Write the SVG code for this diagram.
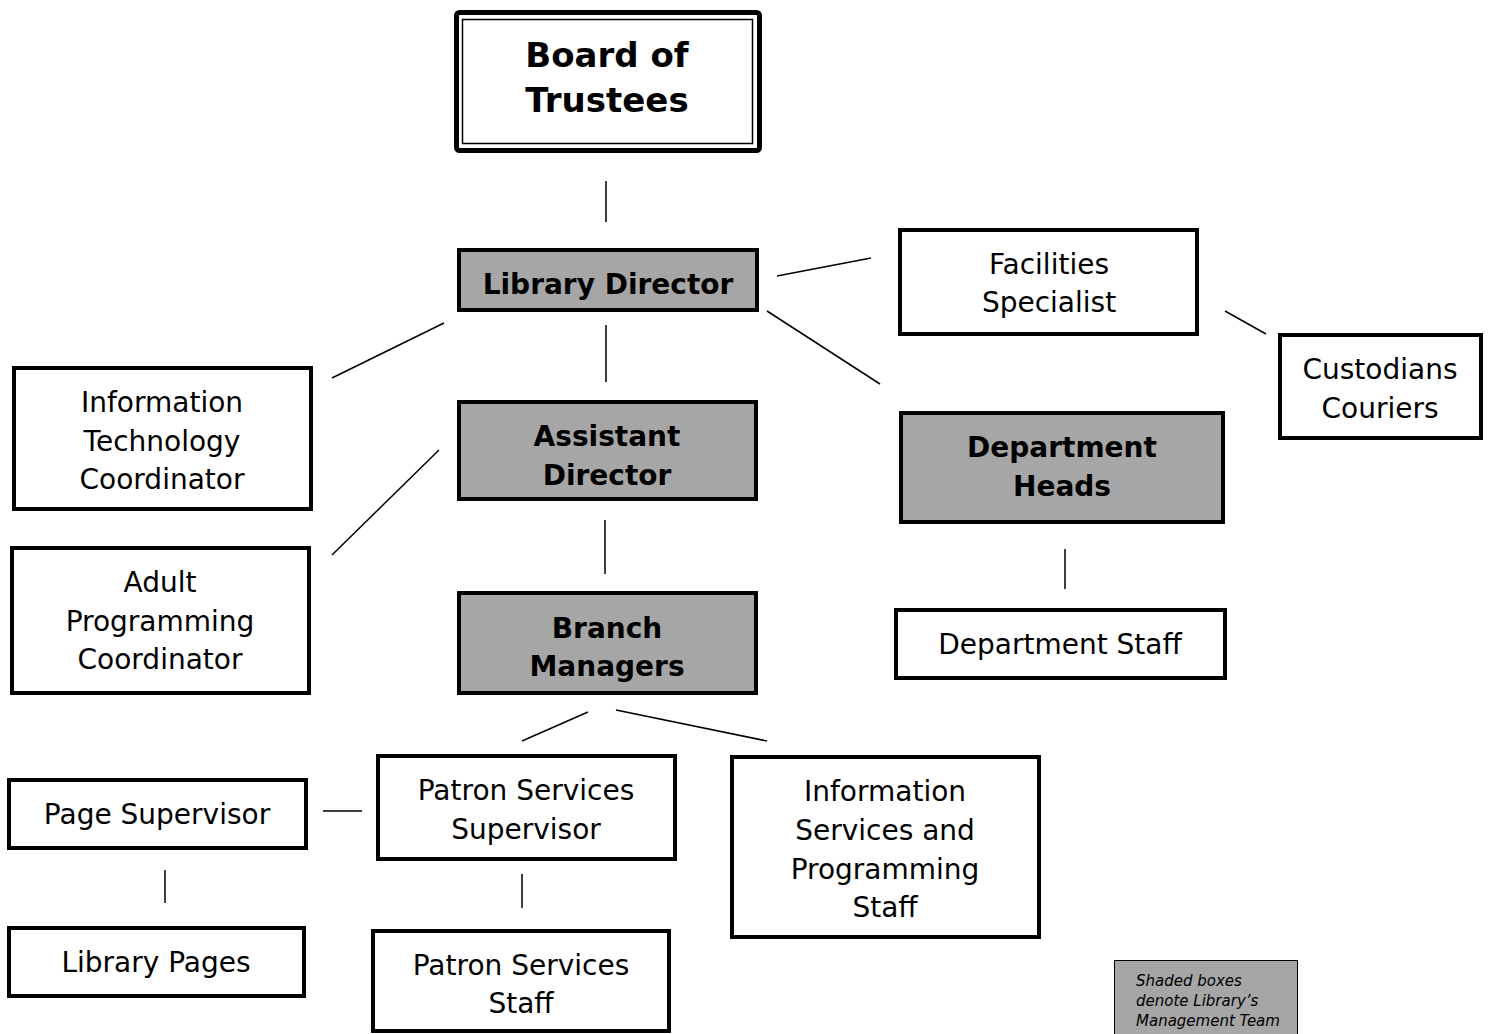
<svg xmlns="http://www.w3.org/2000/svg" width="1489" height="1034" viewBox="0 0 1489 1034">
<style>
.box{fill:#fff;stroke:#000;stroke-width:4}
.mgmt{fill:#a6a6a6;stroke:#000;stroke-width:4}
.t{font-family:"DejaVu Sans","Liberation Sans",sans-serif;font-size:28px;fill:#000;text-anchor:middle}
.b{font-family:"DejaVu Sans","Liberation Sans",sans-serif;font-size:28px;font-weight:bold;fill:#000;text-anchor:middle}
.big{font-size:34px}
.conn line{stroke:#000;stroke-width:1.5}
.leg{font-family:"DejaVu Sans","Liberation Sans",sans-serif;font-size:15px;font-style:italic;fill:#000}
</style>
<rect width="1489" height="1034" fill="#fff"/>
<g id="connectors" class="conn">
<line x1="606" y1="181" x2="606" y2="222"/>
<line x1="777" y1="276" x2="871" y2="258"/>
<line x1="606" y1="325" x2="606" y2="382"/>
<line x1="767" y1="311" x2="880" y2="384"/>
<line x1="444" y1="323" x2="332" y2="378"/>
<line x1="439" y1="450" x2="332" y2="555"/>
<line x1="605" y1="520" x2="605" y2="574"/>
<line x1="1225" y1="311" x2="1266" y2="334"/>
<line x1="1065" y1="549" x2="1065" y2="589"/>
<line x1="588" y1="712" x2="522" y2="741"/>
<line x1="616" y1="710" x2="767" y2="741"/>
<line x1="323" y1="811" x2="362" y2="811"/>
<line x1="165" y1="870" x2="165" y2="903"/>
<line x1="522" y1="874" x2="522" y2="908"/>
</g>
<g id="board">
<rect x="456.5" y="12.5" width="303" height="138" rx="3" fill="#fff" stroke="#000" stroke-width="5"/>
<rect x="462.5" y="19.5" width="290" height="124" fill="none" stroke="#000" stroke-width="1.5"/>
<text class="b big" x="607" y="67">Board of</text>
<text class="b big" x="607" y="112">Trustees</text>
</g>
<g id="director">
<rect class="mgmt" x="459" y="250" width="298" height="60"/>
<text class="b" x="608" y="294">Library Director</text>
</g>
<g id="facilities">
<rect class="box" x="900" y="230" width="297" height="104"/>
<text class="t" x="1049" y="274">Facilities</text>
<text class="t" x="1049" y="312">Specialist</text>
</g>
<g id="custodians">
<rect class="box" x="1280" y="335" width="201" height="103"/>
<text class="t" x="1380" y="379">Custodians</text>
<text class="t" x="1380" y="418">Couriers</text>
</g>
<g id="it">
<rect class="box" x="14" y="368" width="297" height="141"/>
<text class="t" x="162" y="412">Information</text>
<text class="t" x="162" y="451">Technology</text>
<text class="t" x="162" y="489">Coordinator</text>
</g>
<g id="assistant">
<rect class="mgmt" x="459" y="402" width="297" height="97"/>
<text class="b" x="607" y="446">Assistant</text>
<text class="b" x="607" y="485">Director</text>
</g>
<g id="depheads">
<rect class="mgmt" x="901" y="413" width="322" height="109"/>
<text class="b" x="1062" y="457">Department</text>
<text class="b" x="1062" y="496">Heads</text>
</g>
<g id="adult">
<rect class="box" x="12" y="548" width="297" height="145"/>
<text class="t" x="160" y="592">Adult</text>
<text class="t" x="160" y="631">Programming</text>
<text class="t" x="160" y="669">Coordinator</text>
</g>
<g id="branch">
<rect class="mgmt" x="459" y="593" width="297" height="100"/>
<text class="b" x="607" y="638">Branch</text>
<text class="b" x="607" y="676">Managers</text>
</g>
<g id="depstaff">
<rect class="box" x="896" y="610" width="329" height="68"/>
<text class="t" x="1060" y="654">Department Staff</text>
</g>
<g id="pagesup">
<rect class="box" x="9" y="780" width="297" height="68"/>
<text class="t" x="157" y="824">Page Supervisor</text>
</g>
<g id="patronsup">
<rect class="box" x="378" y="756" width="297" height="103"/>
<text class="t" x="526" y="800">Patron Services</text>
<text class="t" x="526" y="839">Supervisor</text>
</g>
<g id="infoserv">
<rect class="box" x="732" y="757" width="307" height="180"/>
<text class="t" x="885" y="801">Information</text>
<text class="t" x="885" y="840">Services and</text>
<text class="t" x="885" y="879">Programming</text>
<text class="t" x="885" y="917">Staff</text>
</g>
<g id="pages">
<rect class="box" x="9" y="928" width="295" height="68"/>
<text class="t" x="156" y="972">Library Pages</text>
</g>
<g id="patronstaff">
<rect class="box" x="373" y="931" width="296" height="100"/>
<text class="t" x="521" y="975">Patron Services</text>
<text class="t" x="521" y="1013">Staff</text>
</g>
<g id="legend">
<rect x="1114.5" y="960.5" width="183" height="90" fill="#a6a6a6" stroke="#000" stroke-width="1"/>
<text class="leg" x="1136" y="986">Shaded boxes</text>
<text class="leg" x="1136" y="1006">denote Library’s</text>
<text class="leg" x="1136" y="1026">Management Team</text>
</g>
</svg>
